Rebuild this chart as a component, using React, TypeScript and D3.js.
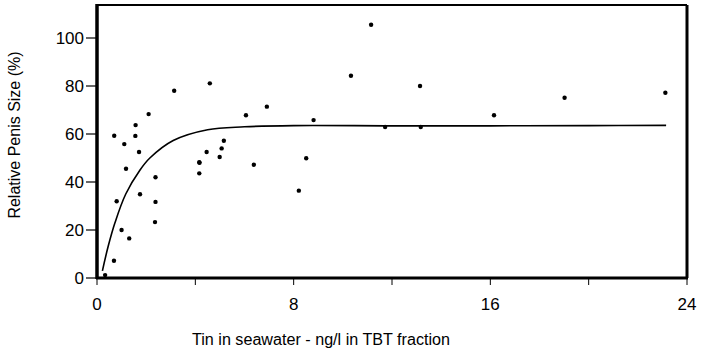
import React from "react";
import * as d3 from "d3";

const xTicks = [0, 4, 8, 12, 16, 20, 24];
const xTickLabels = ["0", "", "8", "", "16", "", "24"];
const yTicks = [0, 20, 40, 60, 80, 100];

const tinX = [0.33, 0.69, 0.8, 1.0, 1.31, 1.75, 2.38, 2.38, 2.36, 4.16, 3.14, 2.1, 1.57, 0.7, 1.56, 1.11, 1.71, 1.18, 4.46, 4.16, 4.59, 6.06, 6.91, 5.16, 5.07, 4.99, 4.17, 6.38, 8.51, 8.21, 11.15, 10.33, 13.14, 8.81, 11.72, 13.17, 16.15, 19.02, 23.12];
const penisY = [1.2, 7.2, 32, 20, 16.5, 34.9, 42, 31.7, 23.3, 43.6, 78, 68.3, 63.7, 59.3, 59.2, 55.8, 52.5, 45.5, 52.5, 48.2, 81.1, 67.8, 71.4, 57.2, 54, 50.4, 48, 47.2, 49.9, 36.4, 105.5, 84.3, 80, 65.8, 62.9, 62.9, 67.8, 75.1, 77.2];

const curveX = [0.22, 0.45, 0.73, 1.17, 1.75, 2.15, 3.1, 4.5, 6, 8, 12, 16, 20, 23.15];
const curveY = [3, 13, 23, 35, 45, 50, 57.3, 61.8, 63, 63.5, 63.4, 63.4, 63.5, 63.6];

export default function App() {
  const W = 702, H = 356;
  const x = d3.scaleLinear().domain([0, 24]).range([97, 687]);
  const y = d3.scaleLinear().domain([0, 100]).range([278, 38]);
  const top = 5;
  const pts = tinX.map((v, i) => [v, penisY[i]] as [number, number]);
  const cpts = curveX.map((v, i) => [v, curveY[i]] as [number, number]);
  const line = d3.line<[number, number]>().x(d => x(d[0])).y(d => y(d[1])).curve(d3.curveCatmullRom.alpha(0.5));
  const font = "'Liberation Sans', Arial, Helvetica, sans-serif";
  return (
    <svg width={W} height={H} style={{ position: "absolute", left: 0, top: 0, background: "#fff" }} fontFamily={font}>
      <rect x={0} y={0} width={W} height={H} fill="#fff" />
      {/* frame */}
      <line x1={x(0)} x2={x(24)} y1={top} y2={top} stroke="#000" strokeWidth={2} />
      <line x1={x(24)} x2={x(24)} y1={top} y2={y(0)} stroke="#000" strokeWidth={3} />
      <line x1={x(0)} x2={x(0)} y1={top - 1} y2={y(0) + 1} stroke="#000" strokeWidth={3.5} />
      <line x1={x(0) - 1} x2={x(24) + 1} y1={y(0)} y2={y(0)} stroke="#000" strokeWidth={3} />
      {/* y ticks */}
      {yTicks.map(t => (
        <g key={"y" + t}>
          <line x1={x(0) - 11} x2={x(0)} y1={y(t)} y2={y(t)} stroke="#000" strokeWidth={1.2} />
          <text x={84} y={y(t)} dy="0.36em" textAnchor="end" fontSize={17}>{t}</text>
        </g>
      ))}
      {/* x ticks */}
      {xTicks.map((t, i) => (
        <g key={"x" + t}>
          <line x1={x(t)} x2={x(t)} y1={y(0)} y2={y(0) + 7} stroke="#000" strokeWidth={1} />
          {xTickLabels[i] && (
            <text x={x(t)} y={310} textAnchor="middle" fontSize={17}>{xTickLabels[i]}</text>
          )}
        </g>
      ))}
      {/* axis titles */}
      <text x={192} y={345} fontSize={16} textLength={258} lengthAdjust="spacingAndGlyphs">Tin in seawater - ng/l  in TBT fraction</text>
      <text transform="translate(20,135) rotate(-90)" textAnchor="middle" fontSize={16}>Relative Penis Size (%)</text>
      {/* fitted curve */}
      <path d={line(cpts) || ""} fill="none" stroke="#000" strokeWidth={1.6} />
      {/* points */}
      {pts.map((p, i) => (
        <circle key={i} cx={x(p[0])} cy={y(p[1])} r={2.2} fill="#000" />
      ))}
    </svg>
  );
}
